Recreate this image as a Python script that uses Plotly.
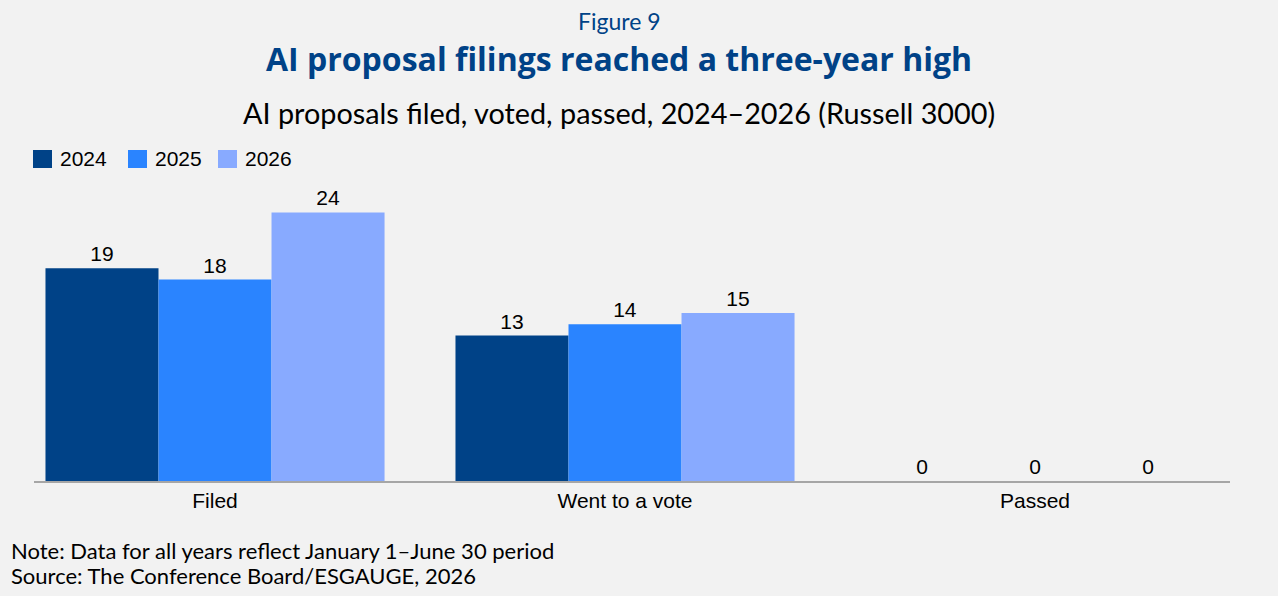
import plotly.graph_objects as go

categories = ["Filed", "Went to a vote", "Passed"]
years = ["2024", "2025", "2026"]
values_2024 = [19, 13, 0]
values_2025 = [18, 14, 0]
values_2026 = [24, 15, 0]

colors = ["#004287", "#2A84FF", "#88AAFF"]
series = [values_2024, values_2025, values_2026]

W, H = 1278, 596
L, R, T, B = 34, 48, 190, 115
PW, PH = W - L - R, H - T - B


def px_x(x):
    return (x - L) / PW


def px_y(y):
    return (H - B - y) / PH


arial = "Liberation Sans, Arial, sans-serif"
lato = "Lato, sans-serif"

fig = go.Figure()
for year, vals, col in zip(years, series, colors):
    fig.add_trace(go.Bar(
        x=categories, y=vals, name=year, marker_color=col, marker_line_width=0,
        text=vals, textposition="outside", cliponaxis=False,
        textfont=dict(family=arial, size=21, color="#000000"),
        showlegend=False,
    ))

fig.update_layout(
    width=W, height=H,
    paper_bgcolor="#F2F2F2", plot_bgcolor="#F2F2F2",
    margin=dict(l=L, r=R, t=T, b=B),
    barmode="group", bargap=0.173, bargroupgap=0,
    xaxis=dict(
        range=[-0.4415, 2.4756], showline=True, linecolor="#A6A6A6", linewidth=1.5,
        ticks="", showgrid=False, zeroline=False,
        tickfont=dict(family=arial, size=21, color="#000000"),
    ),
    yaxis=dict(range=[0, 26], visible=False, showgrid=False, zeroline=False),
)

# legend drawn by hand so the swatches match the larger squares
swatch_x = [33, 128, 218]
for year, col, sx in zip(years, colors, swatch_x):
    fig.add_shape(type="rect", xref="paper", yref="paper",
                  x0=px_x(sx), x1=px_x(sx + 19), y0=px_y(168), y1=px_y(150),
                  fillcolor=col, line_width=0)
    fig.add_annotation(text=year, x=px_x(sx + 25), y=px_y(159), xref="paper", yref="paper",
                       xanchor="left", yanchor="middle", showarrow=False,
                       font=dict(family=arial, size=21, color="#000000"))

heads = [
    ("Figure 9", 21, lato, 23, "#004287"),
    ("<b>AI proposal filings reached a three-year high</b>", 58, "Open Sans, sans-serif", 32, "#004287"),
    ("AI proposals filed, voted, passed, 2024–2026 (Russell 3000)", 113, lato, 28.8, "#000000"),
]
for text, y, fam, size, col in heads:
    fig.add_annotation(text=text, x=px_x(619), y=px_y(y), xref="paper", yref="paper",
                       xanchor="center", yanchor="middle", showarrow=False,
                       font=dict(family=fam, size=size, color=col))

notes = [
    "Note: Data for all years reflect January 1–June 30 period",
    "Source: The Conference Board/ESGAUGE, 2026",
]
for i, line in enumerate(notes):
    fig.add_annotation(text=line, x=px_x(9), y=px_y(550 + 25 * i), xref="paper", yref="paper",
                       xanchor="left", yanchor="middle", showarrow=False,
                       font=dict(family=lato, size=22, color="#000000"))

fig.write_html("out.html", config={"displayModeBar": False},
               post_script="document.body.style.margin='0';document.body.style.background='#F2F2F2';")
